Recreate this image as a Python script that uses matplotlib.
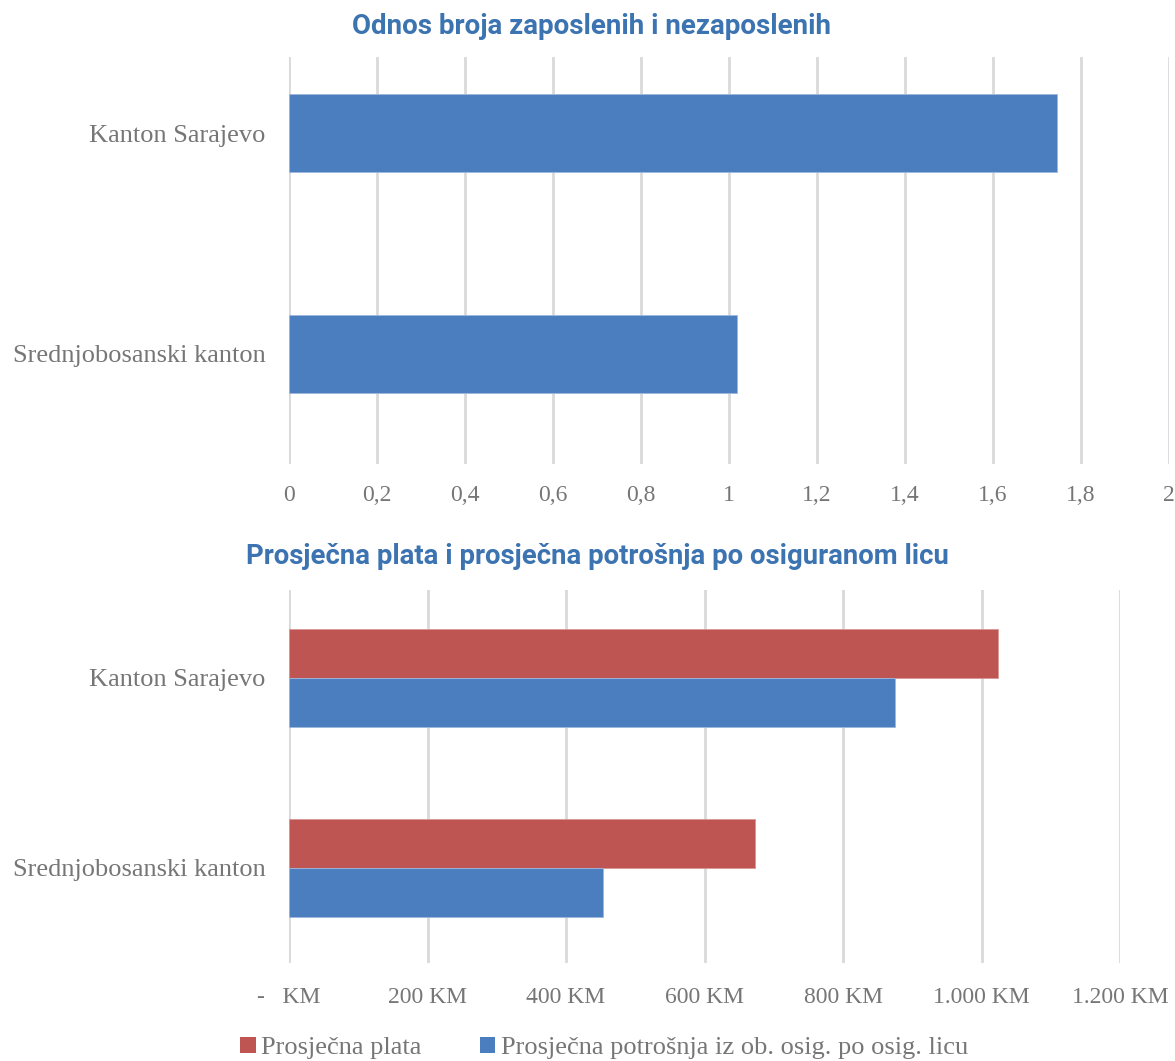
import matplotlib
matplotlib.use("Agg")
import matplotlib.pyplot as plt
from matplotlib.ticker import FuncFormatter, MultipleLocator

# Data
cantons = ["Kanton Sarajevo", "Srednjobosanski kanton"]
ratio_employed = [1.745, 1.018]
avg_salary = [1024, 673]
avg_spending = [875, 453]

title_top = "Odnos broja zaposlenih i nezaposlenih"
title_bottom = "Prosječna plata i prosječna potrošnja po osiguranom licu"
legend_labels = ["Prosječna plata", "Prosječna potrošnja iz ob. osig. po osig. licu"]

W, H = 1175, 1061
BLUE = "#4A7EBF"
RED = "#BE5553"
GRID = "#D9D9D9"
TXT = "#767676"
TITLE_C = "#3C73B1"
SERIF = "Liberation Serif"

fig = plt.figure(figsize=(W / 100, H / 100), dpi=100)


def px_axes(left, top, right, bottom):
    return fig.add_axes([left / W, 1 - bottom / H, (right - left) / W, (bottom - top) / H])


def style(ax, pad_x, pad_y):
    for s in ax.spines.values():
        s.set_visible(False)
    ax.grid(axis="x", color=GRID, linewidth=2)
    ax.set_axisbelow(True)
    ax.tick_params(axis="both", length=0, colors=TXT)
    ax.tick_params(axis="x", pad=pad_x, labelsize=17)
    ax.tick_params(axis="y", pad=pad_y, labelsize=19)
    for lab in ax.get_xticklabels() + ax.get_yticklabels():
        lab.set_fontfamily(SERIF)
        lab.set_color(TXT)


# Top chart: employed / unemployed ratio
ax1 = px_axes(289, 57, 1169, 464)
pos = list(range(len(cantons)))
ax1.barh(pos, ratio_employed, height=0.353, color=BLUE, edgecolor="#9DB8DD", linewidth=0.6)
ax1.set_xlim(0, 2)
ax1.xaxis.set_major_locator(MultipleLocator(0.2))
ax1.xaxis.set_major_formatter(FuncFormatter(lambda v, p: f"{v:.1f}".rstrip("0").rstrip(".").replace(".", ",")))
ax1.set_yticks(pos)
ax1.set_yticklabels(cantons)
ax1.set_ylim(1.498, -0.344)
style(ax1, 15, 17)

fig.text(591 / W, 1 - 27 / H, title_top, ha="center", va="center",
         fontsize=20, fontweight="bold", family="Roboto", color=TITLE_C)

# Bottom chart: salary and spending
ax2 = px_axes(289, 590, 1120, 963)
bh = 0.258
b1 = ax2.barh([p - bh / 2 for p in pos], avg_salary, height=bh, color=RED,
              edgecolor="#D99694", linewidth=0.6, label=legend_labels[0])
b2 = ax2.barh([p + bh / 2 for p in pos], avg_spending, height=bh, color=BLUE,
              edgecolor="#9DB8DD", linewidth=0.6, label=legend_labels[1])
ax2.set_xlim(0, 1200)
ax2.xaxis.set_major_locator(MultipleLocator(200))


def km_fmt(v, p):
    if abs(v) < 1e-9:
        return "-   KM"
    return f"{int(round(v)):,} KM".replace(",", ".")


ax2.xaxis.set_major_formatter(FuncFormatter(km_fmt))
ax2.set_yticks(pos)
ax2.set_yticklabels(cantons)
ax2.set_ylim(1.5, -0.463)
style(ax2, 17, 17)

fig.text(597 / W, 1 - 556 / H, title_bottom, ha="center", va="center",
         fontsize=19.8, fontweight="bold", family="Roboto", color=TITLE_C)

leg = fig.legend(handles=[b1, b2], labels=legend_labels, loc="center",
                 bbox_to_anchor=(604 / W, 1 - 1048 / H), ncol=2, frameon=False,
                 prop={"family": SERIF, "size": 19}, handlelength=0.6, handleheight=0.6,
                 handletextpad=0.2, columnspacing=2.2)
for t in leg.get_texts():
    t.set_color(TXT)
for h in leg.legend_handles:
    h.set_edgecolor("none")

fig.savefig("out.png", dpi=100)
